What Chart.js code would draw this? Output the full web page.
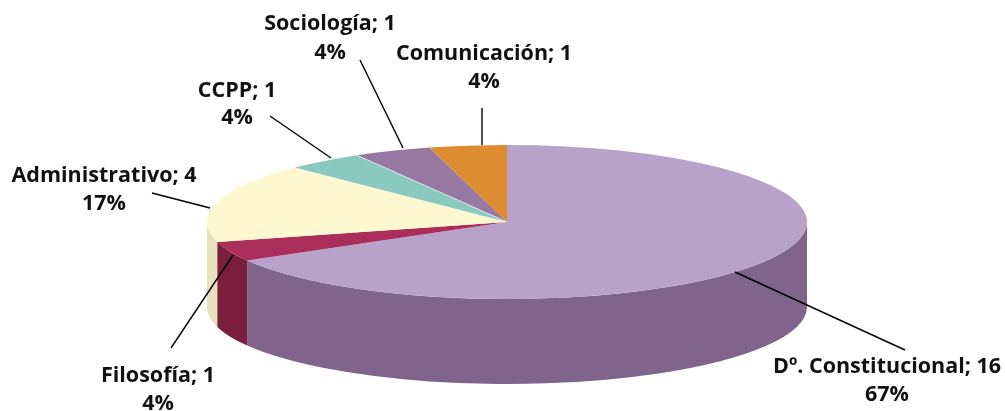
<!DOCTYPE html>
<html>
<head>
<meta charset="utf-8">
<script src="https://cdn.jsdelivr.net/npm/chart.js@4"></script>
<style>
  html, body { margin: 0; padding: 0; background: #fff; }
  canvas { display: block; }
</style>
</head>
<body>
<canvas id="pie" width="1005" height="411"></canvas>
<script>
const categories = ["Dº. Constitucional", "Filosofía", "Administrativo", "CCPP", "Sociología", "Comunicación"];
const counts = [16, 1, 4, 1, 1, 1];
const percents = ["67%", "4%", "17%", "4%", "4%", "4%"];
const topColors = ["#b8a2ca", "#ab2d5a", "#fef7cf", "#89c9bf", "#9778a0", "#dd8d30"];
const wallColors = ["#80648c", "#7a1e3e", "#e6e0bc", "#6fa89f", "#7a6084", "#b87426"];

// where the labels sit on the page: [centre x, first line y, second line y]
const labelSpots = [[887, 367, 395], [158, 376, 404], [104, 176, 204], [237, 91, 118], [330, 24, 53], [484, 54, 82]];
// leader lines: [x1, y1, x2, y2]
const leaders = [
    [735, 272, 905, 350], [233, 255, 171, 348], [210, 208, 152, 193],
    [331, 158, 270, 116], [403, 148, 360, 60], [482, 145, 482, 108],
];

// the pie is squashed into an ellipse, Chart.js can't do that on its own
const CENTER_X = 507, CENTER_Y = 222, RX = 300, RY = 77, DEPTH = 85;

const pie3d = {
    id: "pie3d",
    beforeDatasetsDraw(chart) {
        const ctx = chart.ctx;
        const arcs = chart.getDatasetMeta(0).data;
        const r = arcs[0].outerRadius;
        const cx = arcs[0].x, cy = arcs[0].y;
        ctx.save();
        ctx.translate(CENTER_X, CENTER_Y);
        ctx.scale(RX / r, RY / r);
        ctx.translate(-cx, -cy);
        const d = DEPTH * r / RY;
        arcs.forEach((arc, i) => {
            // only the front half of the side wall shows
            const a0 = Math.max(arc.startAngle, 0);
            const a1 = Math.min(arc.endAngle, Math.PI);
            if (a1 <= a0) return;
            ctx.beginPath();
            ctx.arc(cx, cy, r, a0, a1);
            ctx.arc(cx, cy + d, r, a1, a0, true);
            ctx.closePath();
            ctx.fillStyle = wallColors[i];
            ctx.fill();
        });
    },
    afterDatasetsDraw(chart) {
        const ctx = chart.ctx;
        ctx.restore();
        // thin light seam between CCPP and Sociología
        const a = chart.getDatasetMeta(0).data[3].endAngle;
        ctx.save();
        ctx.strokeStyle = "#f4f0f6";
        ctx.lineWidth = 0.8;
        ctx.beginPath();
        ctx.moveTo(CENTER_X, CENTER_Y);
        ctx.lineTo(CENTER_X + RX * Math.cos(a), CENTER_Y + RY * Math.sin(a));
        ctx.stroke();
        ctx.restore();
    },
    afterDraw(chart) {
        const ctx = chart.ctx;
        ctx.save();
        ctx.strokeStyle = "#000";
        ctx.lineWidth = 1.4;
        leaders.forEach(([x1, y1, x2, y2]) => {
            ctx.beginPath();
            ctx.moveTo(x1, y1);
            ctx.lineTo(x2, y2);
            ctx.stroke();
        });
        ctx.fillStyle = "#111";
        ctx.font = "700 21.5px 'Open Sans'";
        ctx.textAlign = "center";
        ctx.textBaseline = "middle";
        categories.forEach((name, i) => {
            const [x, y1, y2] = labelSpots[i];
            ctx.fillText(name + "; " + counts[i], x, y1);
            ctx.fillText(percents[i], x, y2);
        });
        ctx.restore();
    },
};

new Chart(document.getElementById("pie"), {
    type: "pie",
    data: {
        labels: categories,
        datasets: [{
            data: counts,
            backgroundColor: topColors,
            borderWidth: 0,
            clip: false,
        }],
    },
    options: {
        responsive: false,
        animation: false,
        plugins: {
            legend: { display: false },
            tooltip: { enabled: false },
        },
    },
    plugins: [pie3d],
});
</script>
</body>
</html>
